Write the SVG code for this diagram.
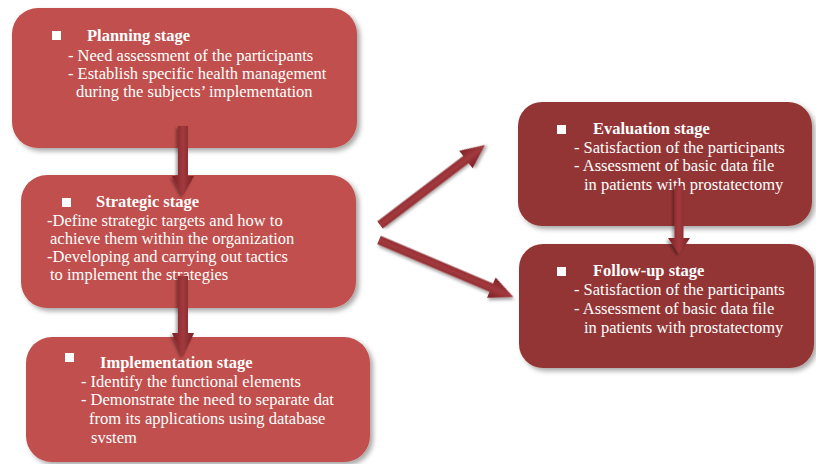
<svg xmlns="http://www.w3.org/2000/svg" width="816" height="464" viewBox="0 0 816 464">
<defs>
<filter id="sh" x="-10%" y="-10%" width="125%" height="130%">
<feDropShadow dx="3" dy="3" stdDeviation="2.5" flood-color="#000" flood-opacity="0.35"/>
</filter>
<filter id="ash" x="-20%" y="-20%" width="150%" height="150%">
<feDropShadow dx="2" dy="2" stdDeviation="1.5" flood-color="#000" flood-opacity="0.35"/>
</filter>
<linearGradient id="ag" x1="0" y1="0" x2="0" y2="1">
<stop offset="0" stop-color="#7a1f24"/>
<stop offset="0.5" stop-color="#a23a3e"/>
<stop offset="1" stop-color="#7a1f24"/>
</linearGradient>
</defs>
<style>
.lt{fill:#C0504D;filter:url(#sh)}
.dk{fill:#943634;filter:url(#sh)}
.tx{font-family:'Liberation Serif','Times New Roman',serif;font-size:16.5px;fill:#fff}
.t{font-weight:bold}
.b{fill:#fff}
.ar{fill:url(#ag);filter:url(#ash)}
</style>
<rect width="816" height="464" fill="#fff"/>
<g id="planning">
<rect class="lt" x="12" y="8" width="345" height="140" rx="26"/>
<rect class="b" x="52" y="31" width="9" height="9"/>
<g class="tx" font-family="Liberation Serif, serif">
<text class="t" x="87" y="41">Planning stage</text>
<text x="68" y="61">- Need assessment of the participants</text>
<text x="68" y="79">- Establish specific health management</text>
<text x="76" y="97">during the subjects’ implementation</text>
</g>
</g>
<g id="strategic">
<rect class="lt" x="21" y="175" width="335" height="133" rx="26"/>
<rect class="b" x="62" y="198" width="9" height="9"/>
<g class="tx" font-family="Liberation Serif, serif">
<text class="t" x="96" y="207">Strategic stage</text>
<text x="47" y="226">-Define strategic targets and how to</text>
<text x="50" y="244">achieve them within the organization</text>
<text x="47" y="262">-Developing and carrying out tactics</text>
<text x="50" y="280">to implement the strategies</text>
</g>
</g>
<g id="implementation">
<rect class="lt" x="26" y="337" width="344" height="125" rx="26"/>
<rect class="b" x="65" y="353" width="9" height="9"/>
<g class="tx" font-family="Liberation Serif, serif">
<text class="t" x="100" y="368">Implementation stage</text>
<text x="81" y="387">- Identify the functional elements</text>
<text x="81" y="405">- Demonstrate the need to separate dat</text>
<text x="89" y="424">from its applications using database</text>
<text x="91" y="443">svstem</text>
</g>
</g>
<g id="evaluation">
<rect class="dk" x="518" y="102" width="294" height="124" rx="24"/>
<rect class="b" x="557" y="125" width="9" height="9"/>
<g class="tx" font-family="Liberation Serif, serif">
<text class="t" x="593" y="134">Evaluation stage</text>
<text x="574" y="153">- Satisfaction of the participants</text>
<text x="574" y="171">- Assessment of basic data file</text>
<text x="584" y="190">in patients with prostatectomy</text>
</g>
</g>
<g id="followup">
<rect class="dk" x="519" y="244" width="295" height="124" rx="24"/>
<rect class="b" x="557" y="267" width="9" height="9"/>
<g class="tx" font-family="Liberation Serif, serif">
<text class="t" x="593" y="276">Follow-up stage</text>
<text x="574" y="295">- Satisfaction of the participants</text>
<text x="574" y="314">- Assessment of basic data file</text>
<text x="584" y="333">in patients with prostatectomy</text>
</g>
</g>
<g id="connectors">
<polygon class="ar" transform="translate(183,126) rotate(90)" points="0,-5 50,-5 50,-11 70,0 50,11 50,5 0,5"/>
<polygon class="ar" transform="translate(183,276) rotate(90)" points="0,-5 57,-5 57,-11 81,0 57,11 57,5 0,5"/>
<polygon class="ar" transform="translate(679,186) rotate(90)" points="0,-4.5 52,-4.5 52,-11 68,0 52,11 52,4.5 0,4.5"/>
<polygon class="ar" transform="translate(380,225) rotate(-37.3)" points="0,-4.5 108,-4.5 108,-11 132,0 108,11 108,4.5 0,4.5"/>
<polygon class="ar" transform="translate(379,240) rotate(23)" points="0,-4.5 122,-4.5 122,-11 146,0 122,11 122,4.5 0,4.5"/>
</g>
</svg>
